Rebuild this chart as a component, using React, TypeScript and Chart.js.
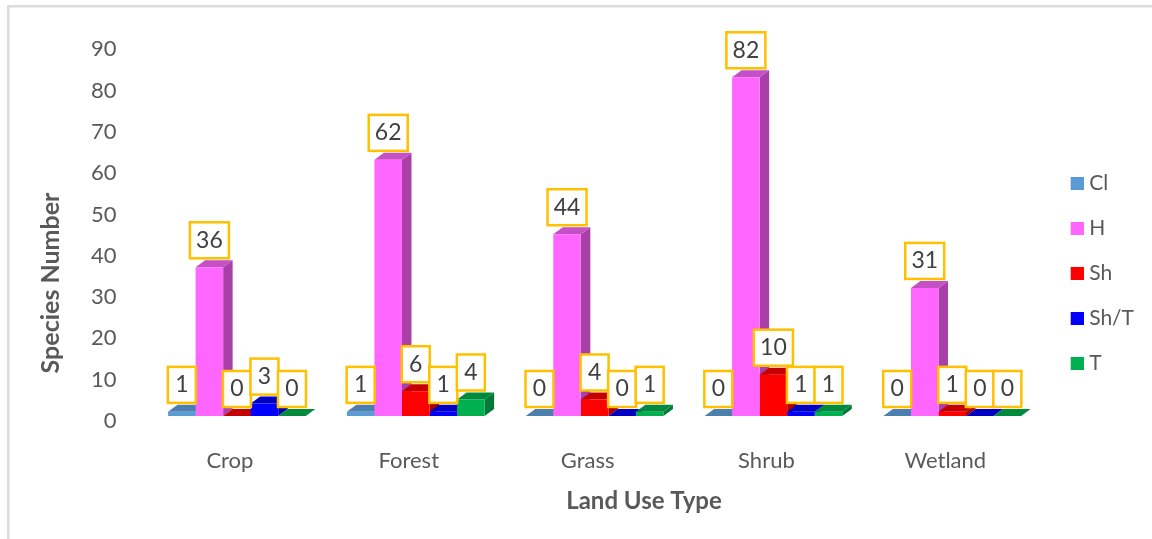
import React, { useEffect, useRef } from "react";
import { Chart, registerables } from "chart.js";

Chart.register(...registerables);

const categories = ["Crop", "Forest", "Grass", "Shrub", "Wetland"];
const seriesNames = ["Cl", "H", "Sh", "Sh/T", "T"];
const clValues = [1, 1, 0, 0, 0];
const hValues = [36, 62, 44, 82, 31];
const shValues = [0, 6, 4, 10, 1];
const shTValues = [3, 1, 0, 1, 0];
const tValues = [0, 4, 1, 1, 0];
const frontColors = ["#5b9bd5", "#ff66ff", "#ff0000", "#0000ff", "#00b050"];
const topColors = ["#4a7fae", "#c54fc5", "#c40000", "#0000c4", "#008a3e"];
const sideColors = ["#3f6c94", "#a840a8", "#a80000", "#0000a8", "#007a36"];
const tickValues = [0, 10, 20, 30, 40, 50, 60, 70, 80, 90];
const xTitle = "Land Use Type";
const yTitle = "Species Number";

const seriesValues = [clValues, hValues, shValues, shTValues, tValues];
const FONT = "Lato, Carlito, 'Open Sans', sans-serif";
const TEXT = "#595959";
const DX = 9.5;
const DY = 7;

// Legend swatch: a 13px square placed nearer the text than Chart.js's fixed gap allows.
function swatch(color: string) {
  const c = document.createElement("canvas");
  c.width = 23;
  c.height = 13;
  const g = c.getContext("2d") as CanvasRenderingContext2D;
  g.fillStyle = color;
  g.fillRect(10, 0, 13, 13);
  return c;
}

const depthPlugin = {
  id: "depth",
  beforeDatasetsDraw(chart: any) {
    const { ctx } = chart;
    chart.data.datasets.forEach((_: any, d: number) => {
      chart.getDatasetMeta(d).data.forEach((bar: any) => {
        const l = bar.x - bar.width / 2;
        const r = bar.x + bar.width / 2;
        const t = bar.y;
        const b = bar.base;
        ctx.fillStyle = sideColors[d];
        ctx.beginPath();
        ctx.moveTo(r, t);
        ctx.lineTo(r + DX, t - DY);
        ctx.lineTo(r + DX, b - DY);
        ctx.lineTo(r, b);
        ctx.closePath();
        ctx.fill();
        ctx.fillStyle = topColors[d];
        ctx.beginPath();
        ctx.moveTo(l, t);
        ctx.lineTo(l + DX, t - DY);
        ctx.lineTo(r + DX, t - DY);
        ctx.lineTo(r, t);
        ctx.closePath();
        ctx.fill();
      });
    });
  },
};

const labelPlugin = {
  id: "labelBoxes",
  afterDatasetsDraw(chart: any) {
    const { ctx } = chart;
    ctx.save();
    ctx.font = `23px ${FONT}`;
    ctx.textAlign = "center";
    ctx.textBaseline = "middle";
    chart.data.datasets.forEach((ds: any, d: number) => {
      chart.getDatasetMeta(d).data.forEach((bar: any, i: number) => {
        const text = String(ds.data[i]);
        const w = text.length > 1 ? 39 : 28;
        const h = 36;
        const cx = bar.x;
        const cy = bar.y - 27;
        ctx.fillStyle = "#ffffff";
        ctx.fillRect(cx - w / 2, cy - h / 2, w, h);
        ctx.strokeStyle = "#ffc000";
        ctx.lineWidth = 2.5;
        ctx.strokeRect(cx - w / 2, cy - h / 2, w, h);
        ctx.fillStyle = "#404040";
        ctx.fillText(text, cx, cy);
      });
    });
    ctx.restore();
  },
};

const titlesPlugin = {
  id: "axisTitles",
  afterDraw(chart: any) {
    const { ctx } = chart;
    ctx.save();
    ctx.font = `bold 24px ${FONT}`;
    ctx.fillStyle = TEXT;
    ctx.textAlign = "center";
    ctx.textBaseline = "middle";
    ctx.fillText(xTitle, 644, 501);
    ctx.translate(51, 283);
    ctx.rotate(-Math.PI / 2);
    ctx.font = `bold 25px ${FONT}`;
    ctx.fillText(yTitle, 0, 0);
    ctx.restore();
    ctx.fillStyle = "#dcdcdc";
    ctx.fillRect(7, 5, 1145, 2.5);
    ctx.fillRect(7, 5, 2.5, 534);
  },
};

export default function App() {
  const ref = useRef<HTMLCanvasElement>(null);
  useEffect(() => {
    document.body.style.margin = "0";
    const chart = new Chart(ref.current as HTMLCanvasElement, {
      type: "bar",
      data: {
        labels: categories,
        datasets: seriesNames.map((name, d) => ({
          label: name,
          data: seriesValues[d],
          backgroundColor: frontColors[d],
          borderWidth: 0,
          barPercentage: 1,
          categoryPercentage: 0.77,
        })),
      },
      options: {
        responsive: false,
        animation: false,
        layout: { padding: { top: 8.3, left: 0, right: 8, bottom: 0 } },
        plugins: {
          tooltip: { enabled: false },
          legend: {
            position: "right",
            labels: {
              usePointStyle: true,
              pointStyleWidth: 13,
              boxHeight: 13,
              padding: 24,
              color: TEXT,
              font: { family: FONT, size: 21 },
              generateLabels: (c: any) =>
                (Chart.defaults.plugins.legend.labels as any).generateLabels(c).map((item: any, d: number) => ({
                  ...item,
                  pointStyle: swatch(frontColors[d]),
                })),
            },
          },
        },
        scales: {
          x: {
            grid: { display: false, drawTicks: false },
            border: { display: false },
            ticks: { color: TEXT, font: { family: FONT, size: 22 }, padding: 32, labelOffset: -7, maxRotation: 0 },
            afterFit: (s: any) => { s.height = 123; },
          },
          y: {
            min: 0,
            max: 90,
            afterBuildTicks: (s: any) => { s.ticks = tickValues.map((value) => ({ value })); },
            grid: { display: false, drawTicks: false },
            border: { display: false },
            ticks: { color: TEXT, font: { family: FONT, size: 22 }, padding: 31, labelOffset: 5 },
            afterFit: (s: any) => { s.width = 147.5; },
          },
        },
      },
      plugins: [depthPlugin, labelPlugin, titlesPlugin],
    } as any);
    return () => chart.destroy();
  }, []);
  return <canvas ref={ref} width={1152} height={539} style={{ display: "block" }} />;
}
